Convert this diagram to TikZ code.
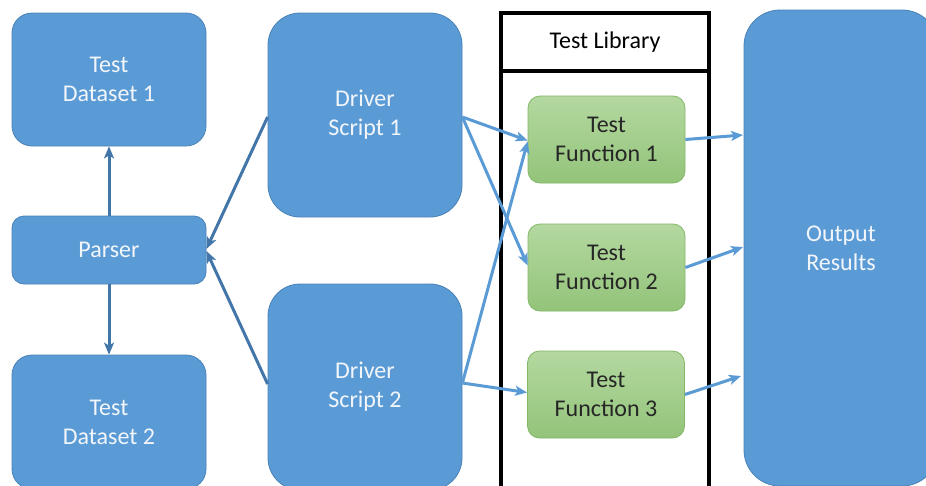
\documentclass[tikz,border=0pt]{standalone}
\usepackage{fontspec}
\setmainfont{Carlito}
\usetikzlibrary{arrows.meta,calc}
\definecolor{boxblue}{HTML}{5B9BD5}
\definecolor{boxedge}{HTML}{4A83B8}
\definecolor{darkline}{HTML}{4376A8}
\definecolor{lightline}{HTML}{5B9BD5}
\definecolor{gtop}{HTML}{B4D8A0}
\definecolor{gbot}{HTML}{93C47A}
\definecolor{gedge}{HTML}{82B866}
\definecolor{wtext}{HTML}{F2F6FB}
\tikzset{
  bluebox/.style={draw=boxedge, line width=0.8pt, fill=boxblue, text=wtext, align=center,
    font=\fontsize{24}{29}\selectfont, inner sep=0pt},
  greenbox/.style={draw=gedge, line width=0.8pt, top color=gtop, bottom color=gbot, text=black!85,
    align=center, font=\fontsize{24}{29}\selectfont, inner sep=0pt,
    minimum width=157pt, minimum height=87pt, rounded corners=12pt},
  darkarrow/.style={draw=darkline, line width=3pt, -{Stealth[length=12pt,width=10pt,inset=3pt]}},
  lightarrow/.style={draw=lightline, line width=3pt, -{Stealth[length=12pt,width=10pt,inset=3pt]}},
  libline/.style={draw=black, line width=3.2pt}
}
\begin{document}
\begin{tikzpicture}[x=1pt,y=-1pt]
\useasboundingbox (0,0) rectangle (926,485);
\clip (0,0) rectangle (926,485);
\fill[white] (0,0) rectangle (926,485);
% left column
\node[bluebox, minimum width=194pt, minimum height=133pt, rounded corners=20pt] (td1) at (109,79.5) {Test\\Dataset 1};
\node[bluebox, minimum width=194pt, minimum height=68pt, rounded corners=12pt] (parser) at (109,250) {Parser};
\node[bluebox, minimum width=194pt, minimum height=134pt, rounded corners=20pt] (td2) at (109,422) {Test\\Dataset 2};
% drivers
\node[bluebox, minimum width=194pt, minimum height=204pt, rounded corners=32pt] (ds1) at (365,115) {Driver\\Script 1};
\node[bluebox, minimum width=194pt, minimum height=206pt, rounded corners=32pt] (ds2) at (365,387) {Driver\\Script 2};
% output
\node[bluebox, minimum width=194pt, minimum height=476pt, rounded corners=36pt] (out) at (841,248) {Output\\Results};
% test library
\node[minimum width=208pt, minimum height=58pt, inner sep=0pt, outer sep=0pt, text=black,
  font=\fontsize{24}{29}\selectfont] (libhead) at (605,42) {Test Library};
\draw[libline] (libhead.north west) rectangle (709,500);
\draw[libline] (libhead.south west) -- (libhead.south east);
% functions
\node[greenbox] (tf1) at (606.5,139.5) {Test\\Function 1};
\node[greenbox] (tf2) at (606.5,267.5) {Test\\Function 2};
\node[greenbox] (tf3) at (606,394.5) {Test\\Function 3};
% coordinates on output
\coordinate (o1) at (743,135);
\coordinate (o2) at (743,247);
\coordinate (o3) at (741,376);
% dark arrows
\draw[darkarrow] (parser.north) -- (td1.south);
\draw[darkarrow] (parser.south) -- (td2.north);
\draw[darkarrow] ($(ds1.west)+(0,2)$) -- ($(parser.east)+(0,-1)$);
\draw[darkarrow] ($(ds2.west)+(0,-3)$) -- ($(parser.east)+(0,1)$);
% light arrows
\draw[lightarrow] ($(ds1.east)+(0,2)$) -- ($(tf1.west)+(0,1)$);
\draw[lightarrow] ($(ds1.east)+(0,2)$) -- ($(tf2.west)+(0,-2)$);
\draw[lightarrow] ($(ds2.east)+(0,-4)$) -- ($(tf1.west)+(0,2)$);
\draw[lightarrow] ($(ds2.east)+(0,-4)$) -- ($(tf3.west)+(0,-2)$);
\draw[lightarrow] (tf1.east) -- (o1);
\draw[lightarrow] (tf2.east) -- (o2);
\draw[lightarrow] (tf3.east) -- (o3);
\end{tikzpicture}
\end{document}
